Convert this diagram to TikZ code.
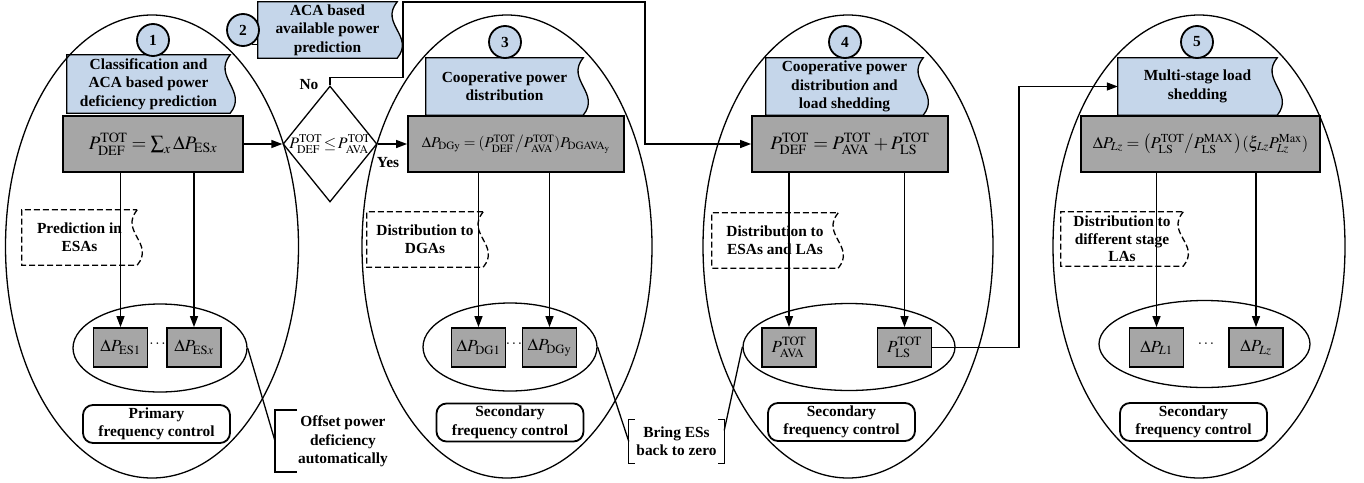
\documentclass[tikz,border=0pt]{standalone}
\usepackage{mathptmx}
\usepackage{fontspec}
\setmainfont{Liberation Serif}
\usetikzlibrary{arrows.meta,shapes.geometric,backgrounds}

\definecolor{boxblue}{RGB}{197,214,234}
\definecolor{boxgray}{RGB}{166,166,166}
\newcommand{\waveside}[2]{\draw[#2] (#1.north east) .. controls +(-18,22) and +(18,-22) .. (#1.south east) -- (#1.south west) -- (#1.north west) -- cycle;}

\tikzset{
  ln/.style={line width=1.3pt},
  arr/.style={ln,-{Triangle[length=11pt,width=8pt]}},
  ttl/.style={align=center,inner sep=0pt},
  eqbox/.style={draw,fill=boxgray,line width=1.8pt,inner sep=0pt,minimum height=56pt,font=\fontsize{19}{19}\selectfont},
  sbox/.style={draw,fill=boxgray,line width=1.8pt,inner sep=0pt,minimum width=54pt,minimum height=39pt,font=\fontsize{17}{17}\selectfont},
  num/.style={circle,draw,fill=boxblue,line width=1.8pt,minimum size=32pt,inner sep=0pt},
  ctl/.style={draw,rounded corners=10pt,line width=1.8pt,minimum width=147pt,minimum height=38pt,align=center,inner sep=0pt},
  oval/.style={ellipse,draw,ln,inner sep=0pt}
}

\begin{document}
\begin{tikzpicture}[x=1pt,y=-1pt,font=\fontsize{15.4}{18.4}\selectfont\bfseries]
\useasboundingbox (0,0) rectangle (1364,482);

\node[ttl,minimum width=163pt,minimum height=58pt] (t1) at (148.5,84) {Classification and\\ACA based power\\deficiency prediction};
\node[ttl,minimum width=139pt,minimum height=56pt] (t2) at (327.5,30) {ACA based\\available power\\prediction};
\node[ttl,minimum width=157pt,minimum height=57pt] (t3) at (504.5,86.5) {Cooperative power\\distribution};
\node[ttl,minimum width=157pt,minimum height=57pt] (t4) at (844.5,86.5) {Cooperative power\\distribution and\\load shedding};
\node[ttl,minimum width=159pt,minimum height=57pt] (t5) at (1197.5,86.5) {Multi-stage load\\shedding};

\node[ttl,minimum width=115pt,minimum height=55pt] (d1) at (79.5,237.5) {Prediction in\\ESAs};
\node[ttl,minimum width=116pt,minimum height=55pt] (d3) at (425,239.5) {Distribution to\\DGAs};
\node[ttl,minimum width=126pt,minimum height=55pt] (d4) at (775,240.5) {Distribution to\\ESAs and LAs};
\node[ttl,minimum width=122pt,minimum height=54pt,font=\fontsize{15.4}{17.5}\selectfont\bfseries] (d5) at (1122,239) {Distribution to\\different stage\\LAs};

\begin{scope}[on background layer]
\foreach \n in {t1,t2,t3,t4,t5} {\waveside{\n}{ln,fill=boxblue}}
\foreach \n in {d1,d3,d4,d5} {\waveside{\n}{ln,dash pattern=on 6pt off 3pt}}
\end{scope}

\node[num] (c1) at (153,40) {1};
\node[num] (c2) at (243,30) {2};
\node[num] (c3) at (505,42) {3};
\node[num] (c4) at (845,42) {4};
\node[num] (c5) at (1197,42) {5};
\draw[ln] (c2.-58) -- (t2.west |- c2.-58);

\node[eqbox,minimum width=180pt] (g1) at (153,144) {$P_{\mathrm{DEF}}^{\mathrm{TOT}} = \sum_x \Delta P_{\mathrm{ES}x}$};
\node[eqbox,minimum width=216pt,font=\fontsize{15}{15}\selectfont] (g3) at (516,144) {$\Delta P_{\mathrm{DGy}} = (P_{\mathrm{DEF}}^{\mathrm{TOT}} \big/ P_{\mathrm{AVA}}^{\mathrm{TOT}}) P_{\mathrm{DGAVA}_\mathrm{y}}$};
\node[eqbox,minimum width=196pt] (g4) at (850,144) {$P_{\mathrm{DEF}}^{\mathrm{TOT}} = P_{\mathrm{AVA}}^{\mathrm{TOT}} + P_{\mathrm{LS}}^{\mathrm{TOT}}$};
\node[eqbox,minimum width=239pt,font=\fontsize{16.5}{16.5}\selectfont] (g5) at (1200.5,144) {$\Delta P_{Lz} = \big(P_{\mathrm{LS}}^{\mathrm{TOT}} \big/ P_{\mathrm{LS}}^{\mathrm{MAX}}\,\big)(\xi_{Lz} P_{Lz}^{\mathrm{Max}})$};

\node[diamond,draw,ln,minimum width=94pt,minimum height=116pt,inner sep=0pt] (dia) at (330,144) {};
\node[font=\fontsize{16}{16}\selectfont] (diatxt) at (dia) {$P_{\mathrm{DEF}}^{\mathrm{TOT}}\!\leq\! P_{\mathrm{AVA}}^{\mathrm{TOT}}$};
\node (no) at (309,85) {No};
\node (yes) at (388,163) {Yes};

\node[sbox] (es1) at (120.5,347.5) {$\Delta P_{\mathrm{ES1}}$};
\node[sbox] (esx) at (194,347.5) {$\Delta P_{\mathrm{ES}x}$};
\node[sbox] (dg1) at (478.5,347.5) {$\Delta P_{\mathrm{DG1}}$};
\node[sbox] (dgy) at (549.5,347.5) {$\Delta P_{\mathrm{DGy}}$};
\node[sbox] (ava) at (789,347.5) {$P_{\mathrm{AVA}}^{\mathrm{TOT}}$};
\node[sbox] (ls) at (904.5,347.5) {$P_{\mathrm{LS}}^{\mathrm{TOT}}$};
\node[sbox] (l1) at (1156.5,347.5) {$\Delta P_{L1}$};
\node[sbox] (lz) at (1256,347.5) {$\Delta P_{Lz}$};
\node (dots1) at (157.5,344) {$\cdots$};
\node (dots3) at (514,344) {$\cdots$};
\node (dots5) at (1206,344) {$\cdots$};

\node[oval,minimum width=174pt,minimum height=88pt] (ie1) at (160,348) {};
\node[oval,minimum width=174pt,minimum height=88pt] (ie3) at (510,347) {};
\node[oval,minimum width=212pt,minimum height=87pt] (ie4) at (849,347) {};
\node[oval,minimum width=211pt,minimum height=87pt] (ie5) at (1204.5,344) {};

\node[ctl] (r1) at (156.5,424) {Primary\\frequency control};
\node[ctl] (r3) at (510,422.5) {Secondary\\frequency control};
\node[ctl] (r4) at (841.5,422) {Secondary\\frequency control};
\node[ctl] (r5) at (1193.5,422) {Secondary\\frequency control};

\node[align=center] (off) at (343,441.5) {Offset power\\deficiency\\automatically};
\coordinate (offbr) at (275,441);
\draw[ln] ([shift={(22,-31)}]offbr) -- ++(-22,0) -- ++(0,62) -- ++(22,0);
\node[align=center,minimum width=95pt,minimum height=43pt,inner sep=0pt] (bring) at (676.5,441.5) {Bring ESs\\back to zero};
\draw[ln] ([xshift=6pt]bring.north west) -- (bring.north west) -- (bring.south west) -- ++(6,0);
\draw[ln] ([xshift=-6pt]bring.north east) -- (bring.north east) -- (bring.south east) -- ++(-6,0);

\coordinate (nojog) at (403,2);
\coordinate (nodrop) at (645,144);
\coordinate (lsup) at (1019,86.5);
\draw[arr] (g1.east) -- (dia.west);
\draw[arr] (dia.east) -- (g3.west);
\draw[arr] (dia.north) -- ++(0,-8) -| (nojog) -| (nodrop) -- (g4.west);
\draw[arr] (ls.east) -| (lsup) -- (t5.west);
\foreach \a/\b in {g1/es1,g1/esx,g3/dg1,g3/dgy,g4/ava,g4/ls,g5/l1,g5/lz}
  \draw[arr] (\b |- \a.south) -- (\b.north);
\draw[ln] (ie1.east) -- (offbr);
\draw[ln] (ie3.east) -- (bring.west);
\draw[ln] ([yshift=11pt]bring.east) -- (ie4.west);

\node[oval,minimum width=293pt,minimum height=463pt] (o1) at (152,246.5) {};
\node[oval,minimum width=290pt,minimum height=463pt] (o3) at (507,246.5) {};
\node[oval,minimum width=290pt,minimum height=463pt] (o4) at (848,246.5) {};
\node[oval,minimum width=292pt,minimum height=463pt] (o5) at (1199,246.5) {};
\end{tikzpicture}
\end{document}
